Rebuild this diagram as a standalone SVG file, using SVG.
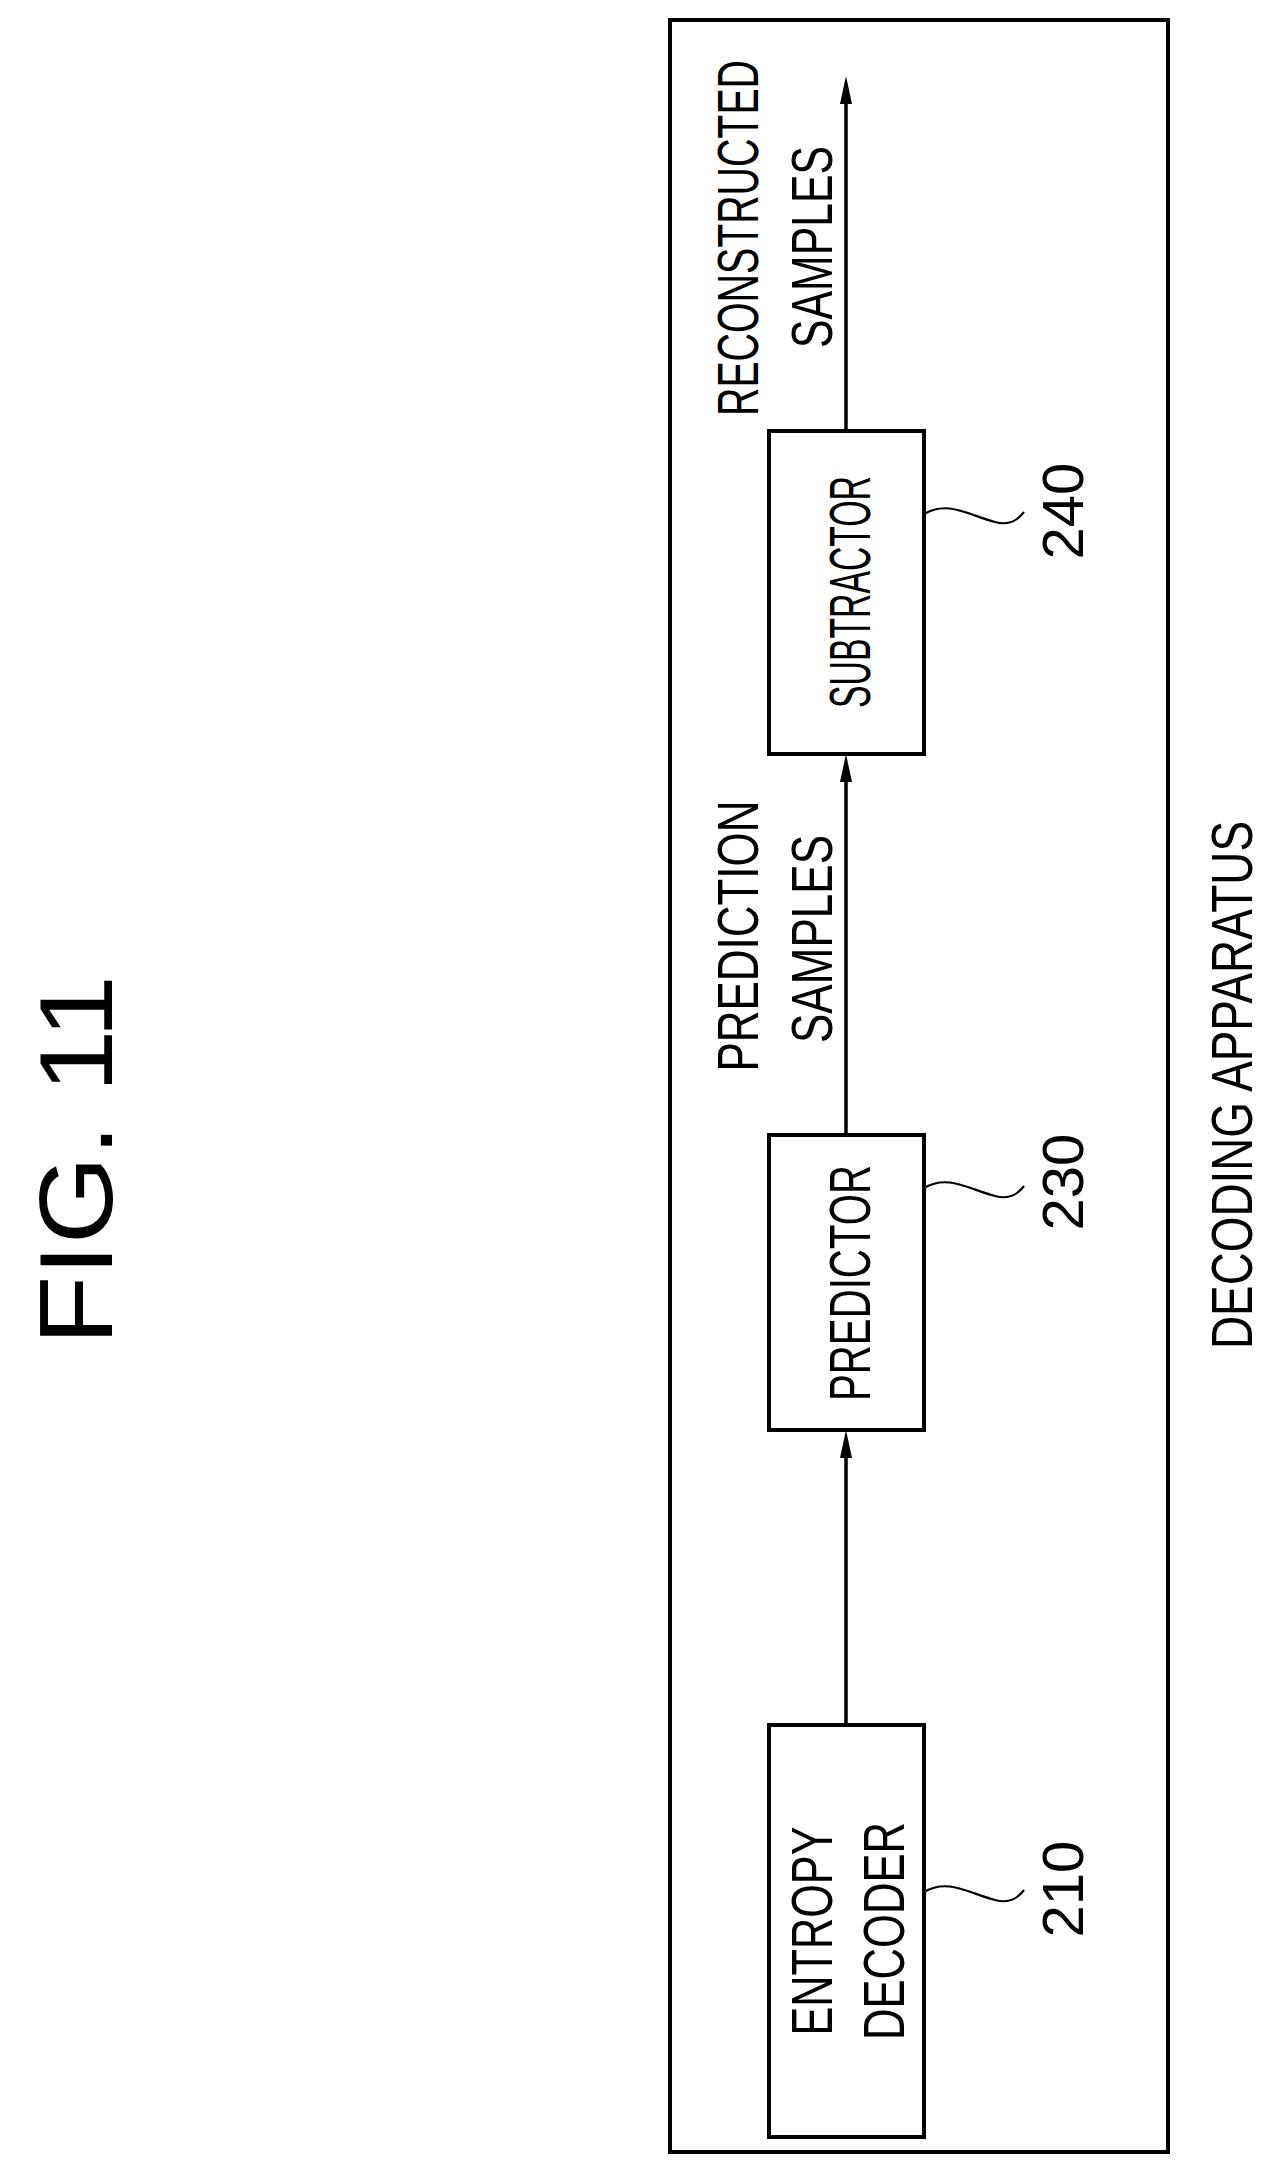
<svg xmlns="http://www.w3.org/2000/svg" width="1266" height="2171" viewBox="0 0 1266 2171">
<style>
text{font-family:"Liberation Sans",Arial,sans-serif;fill:#000}
.box{fill:#fff;stroke:#000;stroke-width:4}
.t{font-size:58px}
.lead{fill:none;stroke:#000;stroke-width:2.2}
.ln{stroke:#000;stroke-width:3.5}
</style>
<rect width="1266" height="2171" fill="#fff"/>
<text transform="translate(112,1160) rotate(-90)" font-size="104" text-anchor="middle" textLength="370" lengthAdjust="spacingAndGlyphs">FIG. 11</text>
<g id="outer"><rect x="670" y="20" width="498" height="2132" fill="none" stroke="#000" stroke-width="4"/>
<text transform="translate(1252,1085) rotate(-90)" class="t" text-anchor="middle" textLength="528" lengthAdjust="spacingAndGlyphs">DECODING APPARATUS</text></g>
<g id="connectors">
<line class="ln" x1="846" y1="1725" x2="846" y2="1450"/>
<path d="M846,1430 l-6,28 h12 z" fill="#000"/>
<line class="ln" x1="846" y1="1135" x2="846" y2="770"/>
<path d="M846,754 l-6,28 h12 z" fill="#000"/>
<line class="ln" x1="846" y1="431" x2="846" y2="95"/>
<path d="M846,76 l-6,28 h12 z" fill="#000"/>
<text transform="translate(758,238) rotate(-90)" class="t" text-anchor="middle" textLength="356" lengthAdjust="spacingAndGlyphs">RECONSTRUCTED</text>
<text transform="translate(832,247) rotate(-90)" class="t" text-anchor="middle" textLength="202" lengthAdjust="spacingAndGlyphs">SAMPLES</text>
<text transform="translate(758,936) rotate(-90)" class="t" text-anchor="middle" textLength="271" lengthAdjust="spacingAndGlyphs">PREDICTION</text>
<text transform="translate(832,939) rotate(-90)" class="t" text-anchor="middle" textLength="208" lengthAdjust="spacingAndGlyphs">SAMPLES</text>
</g>
<g id="n240"><rect class="box" x="769" y="431" width="155" height="323"/>
<text transform="translate(870,592) rotate(-90)" class="t" text-anchor="middle" textLength="232" lengthAdjust="spacingAndGlyphs">SUBTRACTOR</text>
<path class="lead" d="M924,514 C948,500 968,515 995,522 C1010,526 1018,520 1024,512"/>
<text transform="translate(1083,511) rotate(-90)" class="t" text-anchor="middle">240</text></g>
<g id="n230"><rect class="box" x="769" y="1135" width="155" height="295"/>
<text transform="translate(870,1283) rotate(-90)" class="t" text-anchor="middle" textLength="236" lengthAdjust="spacingAndGlyphs">PREDICTOR</text>
<path class="lead" d="M924,1188 C948,1174 968,1189 995,1196 C1010,1200 1018,1194 1024,1186"/>
<text transform="translate(1083,1182) rotate(-90)" class="t" text-anchor="middle">230</text></g>
<g id="n210"><rect class="box" x="769" y="1725" width="155" height="412"/>
<text transform="translate(832,1931) rotate(-90)" class="t" text-anchor="middle" textLength="209" lengthAdjust="spacingAndGlyphs">ENTROPY</text>
<text transform="translate(904,1931) rotate(-90)" class="t" text-anchor="middle" textLength="218" lengthAdjust="spacingAndGlyphs">DECODER</text>
<path class="lead" d="M924,1892 C948,1878 968,1893 995,1900 C1010,1904 1018,1898 1024,1890"/>
<text transform="translate(1083,1889) rotate(-90)" class="t" text-anchor="middle">210</text></g>
</svg>
